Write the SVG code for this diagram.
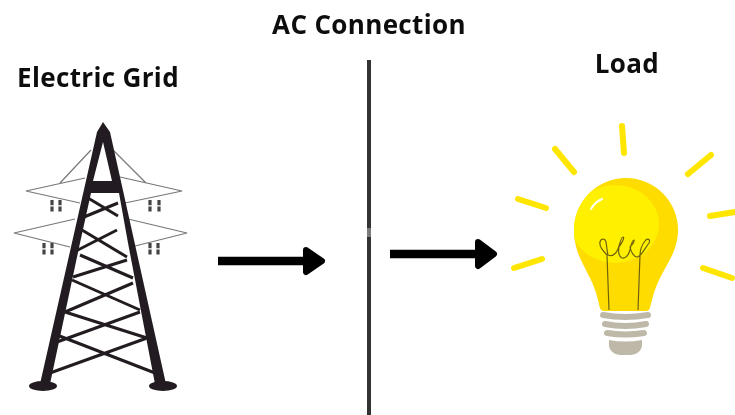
<svg xmlns="http://www.w3.org/2000/svg" width="735" height="415" viewBox="0 0 735 415">
<style>
.lbl{font-family:"Open Sans","Liberation Sans",sans-serif;font-weight:700;font-size:26px;letter-spacing:.35px;fill:#111;text-anchor:middle}
.wire{fill:none;stroke:#777;stroke-width:1.2}
.brace{fill:none;stroke:#231f20;stroke-width:3}
.ins{fill:none;stroke:#444;stroke-width:3.2;stroke-dasharray:5.2 1.2}
.ray{fill:none;stroke:#ffe600;stroke-width:6;stroke-linecap:round}
.base{fill:none;stroke:#bdb8a8;stroke-width:6;stroke-linecap:round}
.fil{fill:none;stroke:#6f6210;stroke-width:1.2}
.shaft{fill:none;stroke:#000;stroke-width:8.5}
.head{fill:#000;stroke:#000;stroke-width:6;stroke-linejoin:round}
</style>
<defs>
<filter id="soft" x="-5%" y="-5%" width="110%" height="110%"><feGaussianBlur stdDeviation="0.5"/></filter>
<filter id="softText" x="-5%" y="-20%" width="110%" height="140%"><feGaussianBlur stdDeviation="0.35"/></filter>
<clipPath id="bulbClip"><path d="M574,230A52,52 0 0 1 678,230C678,250 668,262 660,278C654,290 652,300 650,308Q649,311 646,311H604Q601,311 600,308C598,300 596,290 590,278C582,262 574,250 574,230Z"/></clipPath>
</defs>
<rect width="735" height="415" fill="#fff"/>
<g id="grid-tower" filter="url(#soft)">
<path class="wire" d="M91,150L60,183M113,150L146,183M85,178L26,191L80,203M120,177L182,191L125,203M75,219L14,233L70,247M128,219L187,233L135,246"/>
<path class="ins" d="M52,200V212M60,200V212M150,200V212M159,200V212M44,243V255M52,243V255M150,243V255M158,243V255"/>
<path class="brace" d="M88,198L118,216M118,203L84,217M82,230L127,257M117,230L72,253M80,255L133,278M127,260L73,277M72,280L140,310M133,283L65,312M65,312L147,338M140,312L57,342M57,335L155,373M147,338L50,373"/>
<path fill="#231f20" fill-rule="evenodd" d="M103,122L110,132L166,384H155L128,243L119,193H91L80,243L50,384H40L97,132ZM103,142L93,181H112Z"/>
<ellipse cx="43" cy="386" rx="14" ry="5" fill="#231f20"/>
<ellipse cx="163" cy="386" rx="14" ry="5" fill="#231f20"/>
</g>
<g id="load-bulb" filter="url(#soft)">
<path class="ray" d="M622,126L624,153M555,149L574,172M711,155L688,174M518,199L546,208M710,216L735,212M542,259L514,268M703,268L732,278"/>
<path fill="#ffdc00" d="M574,230A52,52 0 0 1 678,230C678,250 668,262 660,278C654,290 652,300 650,308Q649,311 646,311H604Q601,311 600,308C598,300 596,290 590,278C582,262 574,250 574,230Z"/>
<g clip-path="url(#bulbClip)"><ellipse cx="615" cy="224" rx="44" ry="39" fill="#fff000"/></g>
<path d="M591,209Q595,202 602,199" fill="none" stroke="#fff" stroke-width="2" stroke-linecap="round"/>
<path class="fil" d="M609,310L607,255C603,251 599,246 600,242C601,238 605,238 606,242C607,247 607,252 608,255C612,257 616,254 618,249C620,244 621,237 623,237C625,237 622,243 619,247C618,252 619,257 622,258C626,259 629,254 630,250C631,245 632,240 634,240C635,243 631,245 630,247C631,252 634,257 637,257C641,257 645,248 649,243C651,239 647,238 645,241C642,245 640,250 640,255L638,310"/>
<path class="base" d="M603,315Q625,319 648,315M605,324Q625,328 646,324M607,333Q625,336 644,333"/>
<path fill="#bdb8a8" d="M609,340Q625,343 642,340V345C642,351 636,355 630,355H621C615,355 609,351 609,345Z"/>
</g>
<g id="connectors">
<path d="M369,60V415" fill="none" stroke="#333" stroke-width="4"/>
<rect x="367" y="228" width="4" height="9" fill="#fff" opacity="0.35" filter="url(#soft)"/>
<path class="shaft" d="M218,261H306"/>
<path class="head" d="M306,250L322,261L306,272Z"/>
<path class="shaft" d="M390,254H478"/>
<path class="head" d="M478,242L494,254L478,266Z"/>
</g>
<g id="label-grid" filter="url(#softText)"><text class="lbl" x="98" y="87">Electric Grid</text></g>
<g id="label-ac" filter="url(#softText)"><text class="lbl" x="369" y="34">AC Connection</text></g>
<g id="label-load" filter="url(#softText)"><text class="lbl" x="627" y="73">Load</text></g>
</svg>
